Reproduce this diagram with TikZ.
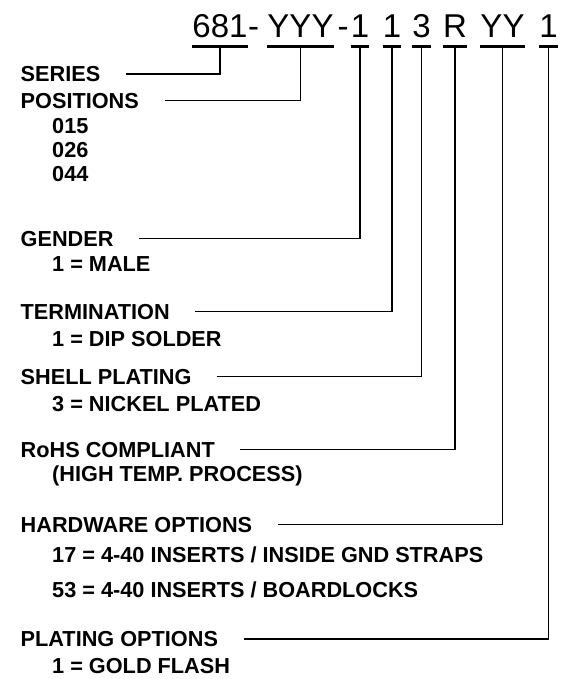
\documentclass[tikz,border=0pt]{standalone}
\usepackage{fontspec}
\setmainfont{Liberation Sans}
\begin{document}
\begin{tikzpicture}[x=1pt,y=-1pt,
  lbl/.style={anchor=base west,inner sep=0pt,font=\fontsize{21.7}{24}\selectfont\bfseries},
  ttl/.style={anchor=base,inner sep=0pt,font=\fontsize{33}{36}\selectfont},
  uline/.style={line width=3.6pt},
  conn/.style={line width=1.6pt}]
\useasboundingbox (0,0) rectangle (560,679);
% title
\node[ttl] (s1) at (220,37.7) {681};
\node[ttl] (h1) at (253.5,37.7) {-};
\node[ttl] (s2) at (300.5,37.7) {YYY};
\node[ttl] (h2) at (343,37.7) {-};
\node[ttl] (s3) at (360,37.7) {1};
\node[ttl] (s4) at (392,37.7) {1};
\node[ttl] (s5) at (421.5,37.7) {3};
\node[ttl] (s6) at (455,37.7) {R};
\node[ttl] (s7) at (502.5,37.7) {YY};
\node[ttl] (s8) at (548.5,37.7) {1};
\foreach \s in {s1,s2,s3,s4,s5,s6,s7,s8}
  \draw[uline] ([yshift=-8.8pt]\s.base west) -- ([yshift=-8.8pt]\s.base east);
% labels
\node[lbl] (L1) at (20.5,81.5) {SERIES};
\node[lbl] (L2) at (20.5,108.3) {POSITIONS};
\node[lbl] (v1) at (52,133.3) {015};
\node[lbl] (v2) at (52,157.7) {026};
\node[lbl] (v3) at (52,182) {044};
\node[lbl] (L3) at (20.5,246) {GENDER};
\node[lbl] (v4) at (52,271.7) {1 = MALE};
\node[lbl] (L4) at (20.5,319.3) {TERMINATION};
\node[lbl] (v5) at (52,346.5) {1 = DIP SOLDER};
\node[lbl] (L5) at (20.5,384) {SHELL PLATING};
\node[lbl] (v6) at (52,411.7) {3 = NICKEL PLATED};
\node[lbl] (L6) at (20.5,457) {RoHS COMPLIANT};
\node[lbl] (v7) at (52,481.7) {(HIGH TEMP. PROCESS)};
\node[lbl] (L7) at (20.5,532) {HARDWARE OPTIONS};
\node[lbl] (v8) at (52,562) {17 = 4-40 INSERTS / INSIDE GND STRAPS};
\node[lbl] (v9) at (52,597) {53 = 4-40 INSERTS / BOARDLOCKS};
\node[lbl] (L8) at (20.5,646.5) {PLATING OPTIONS};
\node[lbl] (v10) at (52,673) {1 = GOLD FLASH};
% connectors
\foreach \l/\s in {L1/s1,L2/s2,L3/s3,L4/s4,L5/s5,L6/s6,L7/s7,L8/s8}
  \draw[conn] ([xshift=25.5pt,yshift=7.7pt]\l.base east) -| ([yshift=-8.8pt]\s.base);
\end{tikzpicture}
\end{document}
